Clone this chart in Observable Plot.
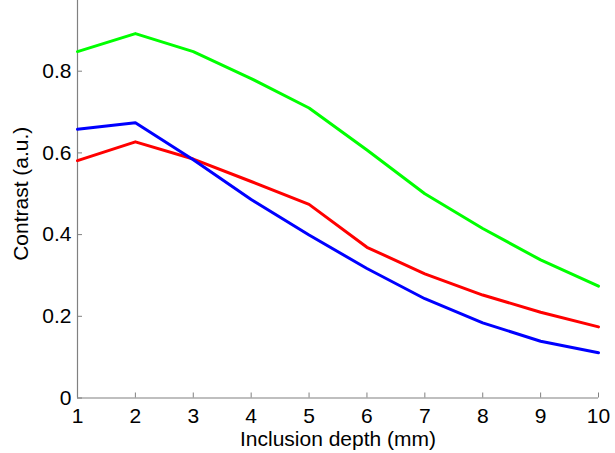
<!DOCTYPE html>
<html><head><meta charset="utf-8">
<script src="https://cdn.jsdelivr.net/npm/d3@7"></script>
<script src="https://cdn.jsdelivr.net/npm/@observablehq/plot@0.6"></script>
<style>
body{margin:0;background:#fff;overflow:hidden}
#chart svg{display:block;margin-top:-11px}
</style>
</head><body><div id="chart"></div>
<script>
const depth = [1, 2, 3, 4, 5, 6, 7, 8, 9, 10];
const seriesA = [0.848, 0.892, 0.848, 0.782, 0.710, 0.607, 0.500, 0.415, 0.338, 0.274];
const seriesB = [0.658, 0.674, 0.583, 0.486, 0.399, 0.317, 0.243, 0.184, 0.139, 0.111];
const seriesC = [0.581, 0.627, 0.585, 0.530, 0.474, 0.369, 0.304, 0.252, 0.210, 0.174];
const seriesNames = ["Series A", "Series C", "Series B"];
const seriesColors = ["#00ff00", "#ff0000", "#0000ff"];
const xTicks = [1, 2, 3, 4, 5, 6, 7, 8, 9, 10];
const yTicks = [0, 0.2, 0.4, 0.6, 0.8];
const xTitle = "Inclusion depth (mm)";
const yTitle = "Contrast (a.u.)";

const seriesValues = {"Series A": seriesA, "Series B": seriesB, "Series C": seriesC};
const rows = seriesNames.flatMap(s => depth.map((d, i) => ({series: s, depth: d, value: seriesValues[s][i]})));

const axisGray = "#808080";
const chart = Plot.plot({
  width: 615,
  height: 464,
  marginLeft: 77,
  marginRight: 17,
  marginTop: 0,
  marginBottom: 55.5,
  style: {fontFamily: "'Liberation Sans', Arial, sans-serif", fontSize: "21px", color: "black", background: "white"},
  x: {domain: [1, 10]},
  y: {domain: [0, 1]},
  color: {type: "ordinal", domain: seriesNames, range: seriesColors},
  marks: [
    Plot.ruleX([1], {stroke: axisGray, strokeWidth: 1.2}),
    Plot.ruleY([0], {stroke: axisGray, strokeWidth: 1.2}),
    Plot.axisX(xTicks, {tickSize: 0, tickPadding: 10, label: null, tickFormat: d => String(d), fontSize: 21}),
    Plot.axisX(xTicks, {tickSize: -5, tickPadding: 0, label: null, tickFormat: () => "", stroke: axisGray}),
    Plot.axisY(yTicks, {tickSize: 0, tickPadding: 6, label: null, tickFormat: d => d === 0 ? "0" : d.toFixed(1), fontSize: 21}),
    Plot.axisY(yTicks, {tickSize: -5, tickPadding: 0, label: null, tickFormat: () => "", stroke: axisGray}),
    Plot.line(rows, {x: "depth", y: "value", z: "series", stroke: "series", strokeWidth: 3}),
    Plot.text([xTitle], {frameAnchor: "bottom", lineAnchor: "bottom", textAnchor: "middle", dy: 48, fontSize: 21, fill: "black"}),
    Plot.text([yTitle], {frameAnchor: "left", lineAnchor: "middle", textAnchor: "middle", dx: -56.5, rotate: -90, fontSize: 21, fill: "black"})
  ]
});
document.getElementById("chart").appendChild(chart);
</script>
</body></html>
